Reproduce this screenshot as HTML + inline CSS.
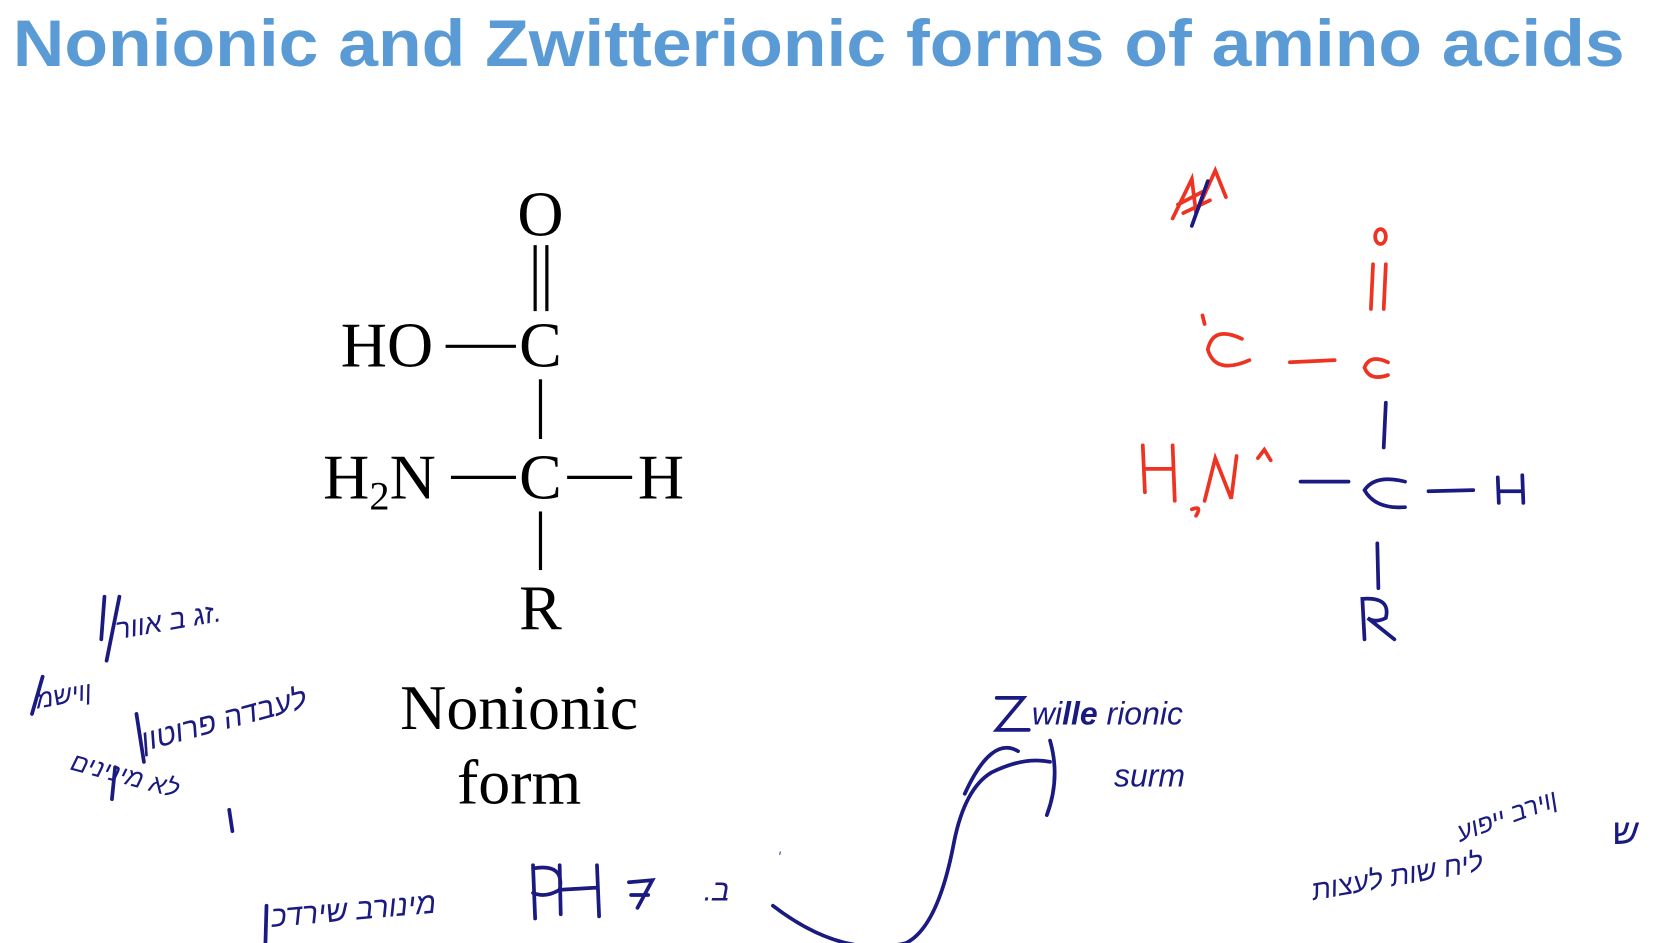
<!DOCTYPE html>
<html><head><meta charset="utf-8"><style>
html,body{margin:0;padding:0;background:#fff;}
svg{display:block;}
</style></head><body>
<svg width="1663" height="943" viewBox="0 0 1560 885" preserveAspectRatio="none" xmlns="http://www.w3.org/2000/svg">
<text x="12" y="62" font-family="Liberation Sans, sans-serif" font-weight="bold" font-size="62" fill="#5b9bd5" textLength="1512" lengthAdjust="spacingAndGlyphs">Nonionic and Zwitterionic forms of amino acids</text>
<g font-family="Liberation Serif, serif" font-size="60" fill="#000" text-anchor="middle">
<text x="507" y="221">O</text>
<text x="363" y="344">HO</text>
<text x="507" y="344">C</text>
<text x="356" y="468">H<tspan font-size="38" dy="10">2</tspan><tspan dy="-10">N</tspan></text>
<text x="507" y="468">C</text>
<text x="620" y="468">H</text>
<text x="507" y="591">R</text>
<text x="487" y="684" font-size="60">Nonionic</text>
<text x="487" y="754" font-size="60">form</text>
</g>
<g stroke="#000" stroke-width="3" fill="none">
<line x1="502" y1="230" x2="502" y2="292"/><line x1="513" y1="230" x2="513" y2="292"/>
<line x1="418" y1="325" x2="484" y2="325"/>
<line x1="507" y1="356" x2="507" y2="412"/>
<line x1="423" y1="448" x2="484" y2="448"/>
<line x1="532" y1="448" x2="593" y2="448"/>
<line x1="507" y1="480" x2="507" y2="535"/>
</g>
<g stroke="#ee3322" stroke-width="3.5" fill="none" stroke-linecap="round">
<path d="M1100 205 L1118 168 L1122 200 L1140 160 L1150 185 M1105 192 L1128 180 M1110 200 L1135 188"/>
<ellipse cx="1295" cy="222" rx="5" ry="7"/>
<line x1="1288" y1="248" x2="1286" y2="290"/><line x1="1300" y1="248" x2="1298" y2="290"/>
<path d="M1302 340 Q1285 332 1280 345 Q1285 358 1302 352"/>
<line x1="1210" y1="340" x2="1252" y2="338"/>
<path d="M1165 318 Q1138 305 1133 328 Q1140 352 1172 338"/>
<line x1="1128" y1="296" x2="1130" y2="304"/>
<path d="M1072 418 L1074 462 M1074 440 L1100 440 M1100 418 L1102 470"/>
<path d="M1118 478 Q1128 474 1122 484"/>
<path d="M1130 470 L1140 430 L1155 468 L1160 428"/>
<path d="M1180 430 L1186 422 L1192 432"/>
</g>
<g stroke="#1a1a80" stroke-width="3.5" fill="none" stroke-linecap="round">
<line x1="1118" y1="212" x2="1133" y2="170"/>
<line x1="1300" y1="378" x2="1298" y2="420"/>
<line x1="1220" y1="452" x2="1265" y2="452"/>
<path d="M1318 452 Q1290 445 1280 460 Q1290 478 1318 476"/>
<line x1="1340" y1="461" x2="1382" y2="460"/>
<path d="M1405 448 L1406 472 M1406 461 L1428 461 M1428 446 L1429 472"/>
<line x1="1292" y1="510" x2="1293" y2="552"/>
<path d="M1280 600 L1278 562 Q1305 560 1300 580 Q1290 585 1283 580 L1308 600"/>
<path d="M725 850 Q790 900 850 885 Q880 870 895 790 Q905 740 930 725 Q960 710 985 715 M985 695 Q995 730 982 765 M905 745 Q930 690 955 705"/>
<path d="M935 655 L960 655 L935 685 L965 685"/>
<path d="M250 850 L249 885"/>
<path d="M500 812 L502 862 M500 815 Q530 810 525 835 Q512 843 500 838 M525 812 L526 858 M526 835 L560 833 M560 812 L562 860"/>
<path d="M590 828 L612 826 L598 852 M592 840 L608 840"/>
<path d="M98 560 L95 600 M100 620 L112 560 M128 670 L135 715 M105 750 L108 720 M30 670 L40 635 M215 760 L218 780"/>
</g>
<g font-family="Liberation Sans, sans-serif" fill="#1a1a80" font-style="italic">
<text x="968" y="680" font-size="30">wi<tspan font-weight="bold">lle</tspan> rionic</text>
<text x="1045" y="738" font-size="30">surm</text>
<text x="660" y="845" font-size="28">.ב</text>
<text x="730" y="805" font-size="10">י</text>
<text x="255" y="870" font-size="28" transform="rotate(-5 255 870)">מינורב שירדכ</text>
<text x="110" y="600" font-size="26" transform="rotate(-10 110 600)">זג ב אוור.</text>
<text x="35" y="665" font-size="24" transform="rotate(-10 35 665)">ןוישמ</text>
<text x="135" y="705" font-size="28" transform="rotate(-15 135 705)">לעבדה פרוטון</text>
<text x="65" y="722" font-size="24" transform="rotate(15 65 722)">לא מינינים</text>
<text x="1232" y="845" font-size="26" transform="rotate(-10 1232 845)">ליח שות לעצות</text>
<text x="1370" y="790" font-size="24" transform="rotate(-20 1370 790)">ןוירב ייפוע</text>
<text x="1512" y="792" font-size="34">ש</text>
</g>
</svg>
</body></html>
